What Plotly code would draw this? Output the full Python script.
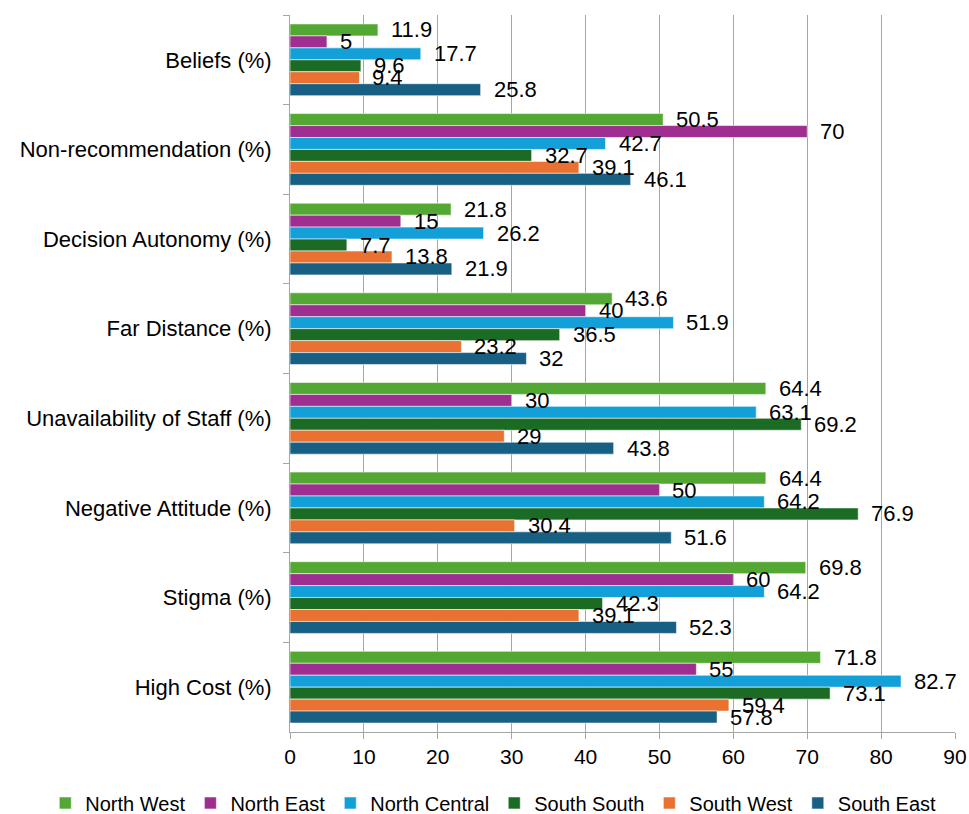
import plotly.graph_objects as go

# Barriers to care by geopolitical zone (percent of respondents)
categories = [
    "Beliefs (%)",
    "Non-recommendation (%)",
    "Decision Autonomy (%)",
    "Far Distance (%)",
    "Unavailability of Staff (%)",
    "Negative Attitude (%)",
    "Stigma (%)",
    "High Cost (%)",
]

north_west = [11.9, 50.5, 21.8, 43.6, 64.4, 64.4, 69.8, 71.8]
north_east = [5, 70, 15, 40, 30, 50, 60, 55]
north_central = [17.7, 42.7, 26.2, 51.9, 63.1, 64.2, 64.2, 82.7]
south_south = [9.6, 32.7, 7.7, 36.5, 69.2, 76.9, 42.3, 73.1]
south_west = [9.4, 39.1, 13.8, 23.2, 29, 30.4, 39.1, 59.4]
south_east = [25.8, 46.1, 21.9, 32, 43.8, 51.6, 52.3, 57.8]

series = [
    ("North West", north_west, "#52A832"),
    ("North East", north_east, "#9E2F91"),
    ("North Central", north_central, "#13A0D8"),
    ("South South", south_south, "#1C6B24"),
    ("South West", south_west, "#E97132"),
    ("South East", south_east, "#175F83"),
]

FONT = "Liberation Sans, Arial, sans-serif"
BARGAP = 0.2
n = len(series)
slot = (1 - BARGAP) / n

fig = go.Figure()
annotations = []
for i, (name, values, color) in enumerate(series):
    fig.add_trace(go.Bar(
        name=name,
        x=values,
        y=categories,
        orientation="h",
        marker=dict(color=color, line=dict(color="rgba(255,255,255,0.55)", width=1)),
    ))
    offset = -(1 - BARGAP) / 2 + slot * (i + 0.5)
    for j, v in enumerate(values):
        annotations.append(dict(
            x=v, y=j + offset, xref="x", yref="y",
            text=f"{v:g}", showarrow=False,
            xanchor="left", yanchor="middle", xshift=11,
            font=dict(family=FONT, size=22, color="#000000"),
        ))

fig.update_layout(
    width=969,
    height=814,
    barmode="group",
    bargap=BARGAP,
    bargroupgap=0,
    plot_bgcolor="white",
    paper_bgcolor="white",
    margin=dict(l=290, r=14, t=15, b=82, autoexpand=False),
    font=dict(family=FONT, size=21, color="#000000"),
    annotations=annotations,
    showlegend=True,
    legend=dict(
        orientation="h",
        x=-0.368, xanchor="left",
        y=-0.099, yanchor="middle",
        font=dict(family=FONT, size=20, color="#000000"),
        traceorder="normal",
        itemwidth=30,
        tracegroupgap=0,
    ),
)

fig.update_xaxes(
    range=[0, 90],
    dtick=10,
    automargin=False,
    showgrid=True,
    gridcolor="#A6A6A6",
    gridwidth=1,
    showline=True,
    linecolor="#A6A6A6",
    linewidth=1,
    ticks="outside",
    ticklen=6,
    tickcolor="#A6A6A6",
    tickfont=dict(family=FONT, size=21, color="#000000"),
    zeroline=False,
)

fig.update_yaxes(
    autorange="reversed",
    automargin=False,
    showgrid=False,
    showline=True,
    linecolor="#A6A6A6",
    linewidth=1,
    ticks="outside",
    ticklen=6,
    tickcolor="#A6A6A6",
    tickson="boundaries",
    ticklabelstandoff=13,
    tickfont=dict(family=FONT, size=22, color="#000000"),
)

fig.write_html("out.html")
